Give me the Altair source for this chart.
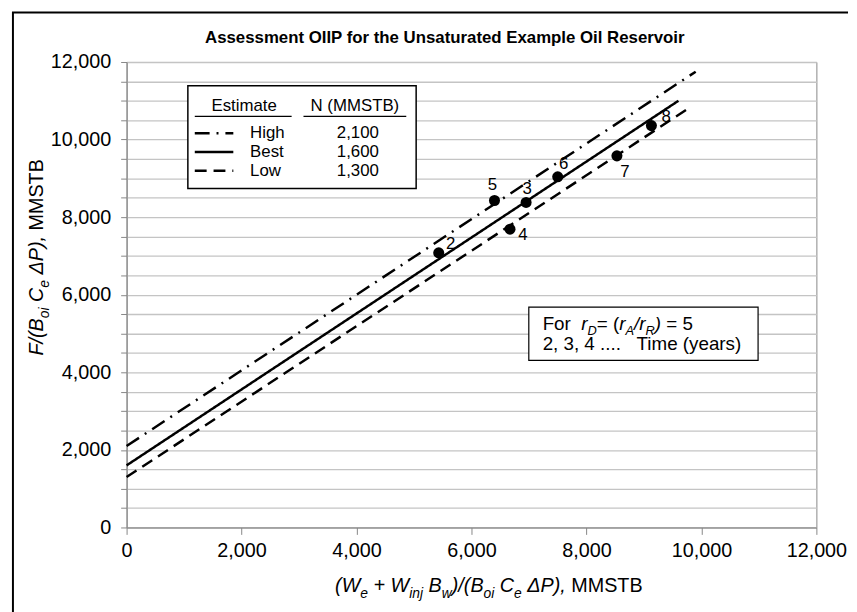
import altair as alt
import pandas as pd

FONT = "Liberation Sans"

# ---------------- data ----------------
point_labels = ["2", "3", "4", "5", "6", "7", "8"]
point_x = [5430, 6950, 6670, 6400, 7500, 8530, 9130]
point_y = [7080, 8380, 7690, 8430, 9040, 9580, 10360]

line_series = ["High", "Best", "Low"]
line_start_x = [0, 0, 0]
line_start_y = [2100, 1600, 1300]
line_end_x = [9900, 9600, 9770]
line_end_y = [11750, 11000, 10800]

legend_header = ["Estimate", "N (MMSTB)"]
legend_names = ["High", "Best", "Low"]
legend_values = ["2,100", "1,600", "1,300"]

x_tick_values = list(range(0, 12001, 2000))
y_tick_values = list(range(0, 12001, 500))

title_text = "Assessment OIIP for the Unsaturated Example Oil Reservoir"

# ---------------- styles / layout ----------------
W, H = 698, 471
AX = "#868686"
dash_map = {"High": [15, 7, 2, 7], "Best": [1, 0], "Low": [12, 7]}
label_offsets = {"2": (12, -9), "3": (1, -14), "4": (13, 6), "5": (-2, -16),
                 "6": (6, -13), "7": (8, 16), "8": (15, -9)}

CW = {' ': 278, '(': 333, ')': 333, '+': 584, ',': 278, '.': 278, '/': 278, '=': 584,
      'A': 667, 'B': 667, 'C': 722, 'D': 722, 'E': 667, 'F': 611, 'H': 722, 'L': 556,
      'M': 833, 'N': 722, 'P': 667, 'R': 722, 'S': 667, 'T': 611, 'W': 944,
      'a': 556, 'b': 556, 'e': 556, 'g': 556, 'h': 556, 'i': 222, 'j': 222, 'm': 833,
      'n': 556, 'o': 556, 'r': 333, 's': 500, 't': 278, 'w': 722, 'y': 500, '\u0394': 668}


def tw(s, size):
    return sum(CW.get(c, 556) for c in s) * size / 1000.0


one = pd.DataFrame({"k": [0]})


def txt(text, x, y, size, italic=False, bold=False, align="left", baseline="alphabetic", angle=0):
    kw = dict(align=align, baseline=baseline, fontSize=size, font=FONT, color="black")
    if italic:
        kw["fontStyle"] = "italic"
    if bold:
        kw["fontWeight"] = "bold"
    if angle:
        kw["angle"] = angle
    return alt.Chart(one).mark_text(**kw).encode(
        x=alt.value(x), y=alt.value(y), text=alt.value(text))


def run(pieces, x0, y0, size, sub_size, sub_shift, vertical=False):
    out = []
    pos = 0.0
    for t, kind, ital in pieces:
        s = sub_size if kind == "sub" else size
        shift = sub_shift if kind == "sub" else 0
        lead = len(t) - len(t.lstrip(" "))
        p = pos + tw(" " * lead, s)
        if t.strip():
            if vertical:
                out.append(txt(t.strip(), x0 + shift, y0 - p, s, italic=ital, angle=270))
            else:
                out.append(txt(t.strip(), x0 + p, y0 + shift, s, italic=ital))
        pos += tw(t, s)
    return out


def rect(x1, y1, x2, y2, sw=1.5):
    return alt.Chart(one).mark_rect(fill="white", stroke="black", strokeWidth=sw).encode(
        x=alt.value(x1), x2=alt.value(x2), y=alt.value(y1), y2=alt.value(y2))


def hrule(x1, x2, y, sw=1.2, dash=None):
    kw = dict(color="black", strokeWidth=sw)
    if dash:
        kw["strokeDash"] = dash
    return alt.Chart(one).mark_rule(**kw).encode(
        x=alt.value(x1), x2=alt.value(x2), y=alt.value(y))


def vrule(x, y1, y2, sw=1.2):
    return alt.Chart(one).mark_rule(color="black", strokeWidth=sw).encode(
        x=alt.value(x), y=alt.value(y1), y2=alt.value(y2))


# ---------------- tables ----------------
rows = []
for n, x0, y0, x1, y1 in zip(line_series, line_start_x, line_start_y, line_end_x, line_end_y):
    rows.append({"series": n, "x": x0, "y": y0})
    rows.append({"series": n, "x": x1, "y": y1})
df_lines = pd.DataFrame(rows)
df_pts = pd.DataFrame({"label": point_labels, "x": point_x, "y": point_y})

x_enc = alt.X("x:Q", scale=alt.Scale(domain=[0, 12000], nice=False, zero=True),
              axis=alt.Axis(values=x_tick_values, grid=False, title=None,
                            labelExpr="format(datum.value, ',')",
                            labelFlush=False, labelOverlap=False, tickSize=7,
                            labelPadding=6, labelFontSize=20, labelFont=FONT,
                            labelColor="black", domainColor=AX, tickColor=AX))
y_enc = alt.Y("y:Q", scale=alt.Scale(domain=[0, 12000], nice=False, zero=True),
              axis=alt.Axis(values=y_tick_values, title=None,
                            labelExpr="datum.value % 2000 == 0 ? format(datum.value, ',') : ''",
                            grid=True, gridColor="#c4c4c4", gridWidth=1.3,
                            tickSize=6, labelPadding=10, labelFontSize=20, labelFont=FONT,
                            labelColor="black", domainColor=AX, tickColor=AX,
                            labelOverlap=False, labelFlush=False))

layers = []

lines = alt.Chart(df_lines).mark_line(color="black", strokeWidth=2.5).encode(
    x=x_enc, y=y_enc, detail="series:N",
    strokeDash=alt.StrokeDash("series:N", legend=None,
                              scale=alt.Scale(domain=line_series,
                                              range=[dash_map[s] for s in line_series])))
layers.append(lines)

# outer frame (left and top edges)
layers.append(vrule(-115, -50, 560, sw=2))
layers.append(hrule(-116, 730, -50, sw=2))

pts = alt.Chart(df_pts).mark_circle(size=125, color="black", opacity=1).encode(x=x_enc, y=y_enc)
layers.append(pts)

for lab in point_labels:
    dx, dy = label_offsets[lab]
    layers.append(
        alt.Chart(df_pts).transform_filter(alt.datum.label == lab)
        .mark_text(fontSize=17, font=FONT, color="black", dx=dx, dy=dy, baseline="middle")
        .encode(x=x_enc, y=y_enc, text="label:N"))

# title
layers.append(txt(title_text, 322, -24, 17, bold=True, align="center", baseline="middle"))

# legend box (pixel decoration)
layers.append(rect(62, 24, 293, 128, sw=1.5))
layers.append(txt(legend_header[0], 119, 50, 17, align="center"))
layers.append(txt(legend_header[1], 231, 50, 17, align="center"))
layers.append(hrule(69, 167, 55))
layers.append(hrule(179, 283, 55))
for i, (nm, val) in enumerate(zip(legend_names, legend_values)):
    yb = 77 + 19 * i
    layers.append(hrule(69, 108, yb - 5, sw=2.5, dash=dash_map[nm]))
    layers.append(txt(nm, 125, yb, 17))
    layers.append(txt(val, 234, yb, 17, align="center"))

# annotation box
layers.append(rect(407, 248, 639, 302, sw=1.2))
note1 = [("For", "n", False), ("  r", "n", True), ("D", "sub", True), ("= (", "n", False),
         ("r", "n", True), ("A", "sub", True), ("/r", "n", True), ("R", "sub", True),
         (")", "n", True), (" = 5", "n", False)]
layers += run(note1, 421, 271.5, 19, 13, 5)
layers += run([("2, 3, 4 ....", "n", False), ("   Time (years)", "n", False)], 421, 291.5, 19, 13, 5)

# x axis title
xt = [("(W", "n", True), ("e", "sub", True), (" + W", "n", True), ("inj", "sub", True),
      (" B", "n", True), ("w", "sub", True), (")/(B", "n", True), ("oi", "sub", True),
      (" C", "n", True), ("e", "sub", True), (" \u0394P),", "n", True), (" MMSTB", "n", False)]
layers += run(xt, 211, 536, 20, 14, 6)

# y axis title (rotated)
yt = [("F/(B", "n", True), ("oi", "sub", True), (" C", "n", True), ("e", "sub", True),
      (" \u0394P),", "n", True), (" MMSTB", "n", False)]
layers += run(yt, -85, 297, 20, 14, 6, vertical=True)

chart = alt.layer(*layers).properties(
    width=W, height=H, background="white",
    padding={"left": 3, "top": 0, "right": 0, "bottom": 0}
).configure_view(stroke=AX, strokeWidth=1)

chart.save("out.html", embed_options={"renderer": "svg", "actions": False})
